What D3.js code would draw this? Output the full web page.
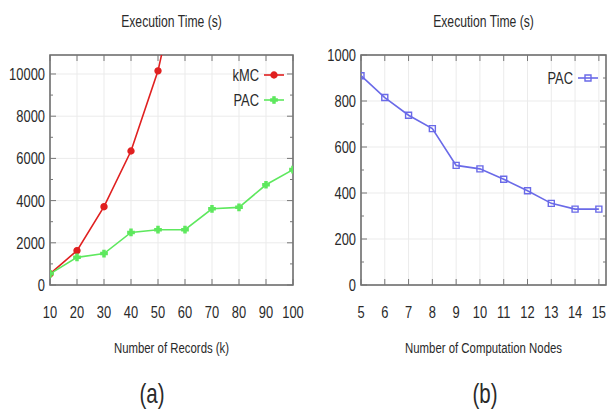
<!DOCTYPE html>
<html>
<head>
<meta charset="utf-8">
<script src="https://cdnjs.cloudflare.com/ajax/libs/d3/7.8.5/d3.min.js"></script>
<style>
  body { margin: 0; background: #fff; }
  svg text { font-family: "Liberation Sans", Arial, sans-serif; fill: #2a2a2a; }
</style>
</head>
<body>
<svg id="fig" width="608" height="413"></svg>
<script>
// chart (a): execution time vs number of records
var recordsK = [10, 20, 30, 40, 50, 60, 70, 80, 90, 100];
var kmcRecords = [10, 20, 30, 40, 50, 60];
var kmcTime = [530, 1630, 3710, 6350, 10150, 15900];
var pacTimeA = [530, 1310, 1490, 2490, 2620, 2620, 3610, 3680, 4750, 5470];
var yTicksA = [0, 2000, 4000, 6000, 8000, 10000];
var yMinorA = [1000, 3000, 5000, 7000, 9000];

// chart (b): execution time vs number of nodes
var nodes = [5, 6, 7, 8, 9, 10, 11, 12, 13, 14, 15];
var pacTimeB = [910, 815, 738, 680, 520, 505, 460, 410, 355, 330, 330];
var yTicksB = [0, 200, 400, 600, 800, 1000];
var yMinorB = [100, 300, 500, 700, 900];

var svg = d3.select("#fig");

// narrow text: the original uses a condensed face
function label(g, x, y, txt, size, anchor) {
    return g.append("text")
        .attr("transform", "translate(" + x + "," + y + ") scale(0.76,1)")
        .attr("dy", "0.35em")
        .attr("text-anchor", anchor)
        .style("font-size", size + "px")
        .text(txt);
}

function panel(opt) {
    var x = d3.scaleLinear().domain(opt.xDomain).range([opt.left, opt.right]);
    var y = d3.scaleLinear().domain(opt.yDomain).range([opt.bottom, opt.top]);
    var g = svg.append("g");
    var clipId = "clip-" + opt.name;

    g.append("clipPath").attr("id", clipId)
        .append("rect")
        .attr("x", opt.left).attr("y", opt.top)
        .attr("width", opt.right - opt.left).attr("height", opt.bottom - opt.top);

    // grid
    g.selectAll(".vgrid").data(opt.xTicks).enter().append("line")
        .attr("x1", function (d) { return x(d); })
        .attr("x2", function (d) { return x(d); })
        .attr("y1", opt.top).attr("y2", opt.bottom)
        .attr("stroke", "#ebebeb").attr("stroke-width", 1);
    g.selectAll(".hgrid").data(opt.yTicks).enter().append("line")
        .attr("y1", function (d) { return y(d); })
        .attr("y2", function (d) { return y(d); })
        .attr("x1", opt.left).attr("x2", opt.right)
        .attr("stroke", "#ebebeb").attr("stroke-width", 1);

    // frame
    g.append("rect")
        .attr("x", opt.left).attr("y", opt.top)
        .attr("width", opt.right - opt.left).attr("height", opt.bottom - opt.top)
        .attr("fill", "none").attr("stroke", "#666").attr("stroke-width", 1.5);

    // inward ticks on all four sides
    var ticks = g.append("g").attr("stroke", "#777").attr("stroke-width", 1);
    opt.xTicks.forEach(function (d) {
        ticks.append("line").attr("x1", x(d)).attr("x2", x(d)).attr("y1", opt.bottom).attr("y2", opt.bottom - 6);
        ticks.append("line").attr("x1", x(d)).attr("x2", x(d)).attr("y1", opt.top).attr("y2", opt.top + 6);
    });
    opt.yTicks.forEach(function (d) {
        ticks.append("line").attr("y1", y(d)).attr("y2", y(d)).attr("x1", opt.left).attr("x2", opt.left + 6);
        ticks.append("line").attr("y1", y(d)).attr("y2", y(d)).attr("x1", opt.right).attr("x2", opt.right - 6);
    });
    opt.yMinor.forEach(function (d) {
        ticks.append("line").attr("y1", y(d)).attr("y2", y(d)).attr("x1", opt.left).attr("x2", opt.left + 3);
        ticks.append("line").attr("y1", y(d)).attr("y2", y(d)).attr("x1", opt.right).attr("x2", opt.right - 3);
    });

    // tick labels
    opt.xTicks.forEach(function (d) {
        label(g, x(d), opt.bottom + 27, d, 17, "middle");
    });
    opt.yTicks.forEach(function (d) {
        label(g, opt.left - 5, y(d), d, 17, "end");
    });

    // titles
    var cx = (opt.left + opt.right) / 2;
    label(g, cx, 21, "Execution Time (s)", 16, "middle");
    label(g, cx, 348, opt.xTitle, 15, "middle");
    label(g, opt.tagX, 394, opt.tag, 27, "middle");

    var plot = g.append("g").attr("clip-path", "url(#" + clipId + ")");
    var legend = g.append("g");

    opt.series.forEach(function (s, i) {
        var pts = s.xs.map(function (v, k) { return [v, s.ys[k]]; });
        var line = d3.line()
            .x(function (d) { return x(d[0]); })
            .y(function (d) { return y(d[1]); });
        plot.append("path").datum(pts)
            .attr("d", line)
            .attr("fill", "none")
            .attr("stroke", s.color)
            .attr("stroke-width", 1.6);
        plot.selectAll(".pt" + i).data(pts).enter().append("path")
            .attr("transform", function (d) { return "translate(" + x(d[0]) + "," + y(d[1]) + ")"; })
            .attr("d", s.marker)
            .attr("fill", s.fill)
            .attr("stroke", s.color)
            .attr("stroke-width", 1.4);

        // legend entry
        var ly = opt.legendY + i * 25;
        label(legend, opt.legendX, ly, s.name, 17, "end");
        legend.append("line")
            .attr("x1", opt.legendX + 5).attr("x2", opt.legendX + 25)
            .attr("y1", ly).attr("y2", ly)
            .attr("stroke", s.color).attr("stroke-width", 1.6);
        legend.append("path")
            .attr("transform", "translate(" + (opt.legendX + 15) + "," + ly + ")")
            .attr("d", s.marker)
            .attr("fill", s.fill).attr("stroke", s.color).attr("stroke-width", 1.4);
    });
}

var circle = d3.symbol().type(d3.symbolCircle).size(28)();
var square = d3.symbol().type(d3.symbolSquare).size(36)();
var star = d3.symbol().type(d3.symbolCross).size(22)();

panel({
    name: "a",
    left: 50, right: 293, top: 55, bottom: 285,
    xDomain: [10, 100], yDomain: [0, 10900],
    xTicks: recordsK, yTicks: yTicksA, yMinor: yMinorA,
    xTitle: "Number of Records (k)", tag: "(a)", tagX: 152,
    legendX: 259, legendY: 75,
    series: [
        { name: "kMC", xs: kmcRecords, ys: kmcTime, color: "#e02020", fill: "#e02020", marker: circle },
        { name: "PAC", xs: recordsK, ys: pacTimeA, color: "#5ee85e", fill: "#5ee85e", marker: star }
    ]
});

panel({
    name: "b",
    left: 361, right: 606, top: 55, bottom: 285,
    xDomain: [5, 15.3], yDomain: [0, 1000],
    xTicks: nodes, yTicks: yTicksB, yMinor: yMinorB,
    xTitle: "Number of Computation Nodes", tag: "(b)", tagX: 485,
    legendX: 573, legendY: 78,
    series: [
        { name: "PAC", xs: nodes, ys: pacTimeB, color: "#6a6ae8", fill: "none", marker: square }
    ]
});
</script>
</body>
</html>
